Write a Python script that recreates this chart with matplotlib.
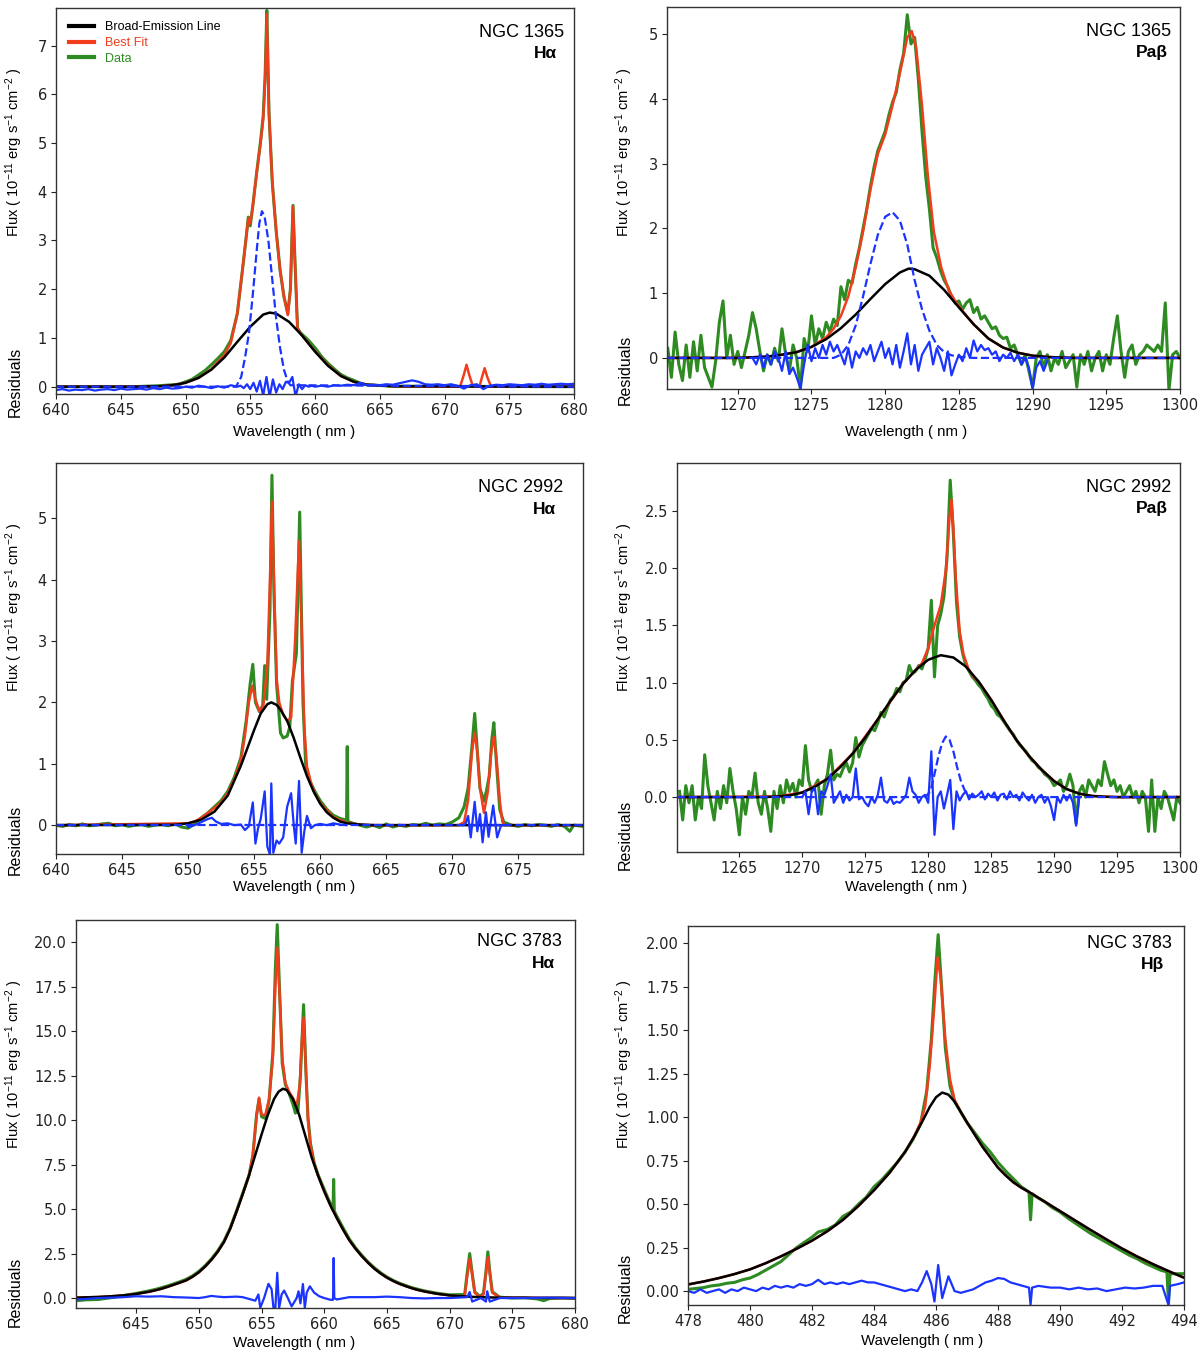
import numpy as np
import matplotlib
matplotlib.use('Agg')
import matplotlib.pyplot as plt
from matplotlib.lines import Line2D

# ---- NGC 1365 H-alpha ----
a_data_x = [640, 646, 648, 649.5, 650, 650.5, 651, 651.5, 652, 652.5,
            653, 653.5, 654, 654.4, 654.7, 654.85, 655.0, 655.2, 655.5, 655.8,
            656.0, 656.15, 656.28, 656.45, 656.7, 657.0, 657.3, 657.6, 657.9, 658.1,
            658.3, 658.45, 658.65, 658.9, 659.5, 660, 660.5, 661, 661.5, 662,
            662.5, 663, 663.5, 664, 666, 680]
a_data_y = [0.0, 0.0, 0.02, 0.05, 0.1, 0.15, 0.24, 0.33, 0.45, 0.58,
            0.72, 0.95, 1.5, 2.4, 3.1, 3.48, 3.3, 3.72, 4.4, 5.05,
            5.55, 6.4, 7.72, 5.6, 4.2, 3.2, 2.4, 1.85, 1.5, 2.0,
            3.72, 2.6, 1.2, 1.1, 0.95, 0.8, 0.62, 0.48, 0.36, 0.25,
            0.18, 0.13, 0.07, 0.04, 0.01, 0.0]
a_fit_x = [640, 646, 648, 649, 650, 651, 652, 653, 653.5, 654,
           654.4, 654.7, 654.85, 655.0, 655.2, 655.5, 655.8, 656.0, 656.15, 656.28,
           656.45, 656.7, 657.0, 657.3, 657.6, 657.9, 658.1, 658.3, 658.45, 658.65,
           658.9, 660, 661, 662, 663, 664, 666, 671.2, 671.5, 671.7,
           671.9, 672.2, 672.7, 672.9, 673.1, 673.3, 673.6, 680]
a_fit_y = [0, 0, 0.01, 0.03, 0.08, 0.18, 0.36, 0.65, 0.9, 1.5,
           2.4, 3.1, 3.45, 3.35, 3.7, 4.4, 5.0, 5.5, 6.3, 7.65,
           5.6, 4.2, 3.2, 2.4, 1.85, 1.47, 2.0, 3.7, 2.6, 1.2,
           1.08, 0.73, 0.44, 0.22, 0.1, 0.04, 0.01, 0.0, 0.25, 0.45,
           0.25, 0.0, 0.0, 0.2, 0.38, 0.2, 0.0, 0.0]
a_broad_x = [640, 646, 648, 649, 650, 651, 652, 653, 654, 655,
             656, 656.5, 657, 658, 659, 660, 661, 662, 663, 664, 666, 680]
a_broad_y = [0, 0, 0.01, 0.03, 0.08, 0.18, 0.35, 0.6, 0.92, 1.23,
             1.48, 1.52, 1.50, 1.33, 1.05, 0.72, 0.43, 0.22, 0.1, 0.04, 0.01, 0]
a_narrow_x = [640, 653.9, 654.0, 654.3, 654.6, 654.9, 655.2, 655.5, 655.7, 655.9,
              656.1, 656.4, 656.7, 657.0, 657.3, 657.6, 657.9, 658.1, 680]
a_narrow_y = [0, 0, 0.05, 0.2, 0.6, 1.1, 1.9, 2.8, 3.35, 3.6,
              3.5, 3.0, 2.2, 1.4, 0.8, 0.35, 0.1, 0.03, 0]
a_res_x = np.concatenate([np.arange(640, 654.01, 0.5),
                          np.arange(654.25, 659.76, 0.25),
                          np.arange(660, 680.01, 0.5)])
a_res_y = [-0.07, -0.05, -0.08, -0.06, -0.07, -0.05, -0.08, -0.06, -0.05, -0.07,
           -0.04, -0.06, -0.05, -0.04, -0.06, -0.03, -0.05, -0.02, -0.04, -0.03,
           0.0, -0.02, 0.02, 0.0, -0.03, 0.01, -0.02, 0.03, 0.0,
           0.02, -0.03, 0.05, -0.05, 0.08, -0.1, 0.12, -0.18, 0.2, -0.2,
           0.15, -0.12, 0.05, -0.05, 0.1, 0.08, 0.2, -0.2, 0.05, -0.05,
           0.03, 0.0, 0.02,
           0.0, 0.02, 0.0, 0.03, 0.02, 0.04, 0.03, 0.08, 0.03, 0.04,
           0.03, 0.05, 0.04, 0.07, 0.1, 0.13, 0.1, 0.05, 0.04, 0.05,
           0.03, 0.05, 0.02, -0.04, 0.03, 0.05, -0.05, 0.02, 0.04, 0.03,
           0.05, 0.04, 0.03, 0.05, 0.04, 0.06, 0.04, 0.05, 0.06, 0.05,
           0.06]

# ---- NGC 1365 Pa-beta ----
b_data_x = np.arange(1265.25, 1300.01, 0.25)
b_data_y = [0.15, -0.3, 0.4, -0.1, -0.35, 0.2, -0.3, 0.25,
            -0.2, 0.35, -0.15, -0.3, -0.45, -0.05, 0.55, 0.88,
            0.0, 0.35, -0.1, 0.1, -0.15, 0.1, 0.35, 0.7,
            0.45, 0.1, -0.2, 0.05, -0.1, 0.15, -0.05, 0.45,
            0.05, -0.2, 0.2, 0.0, -0.48, 0.3, 0.1, 0.65,
            0.2, 0.45, 0.3, 0.55, 0.4, 0.6, 0.5, 1.1,
            0.9, 1.2, 1.15, 1.45, 1.7, 2.0, 2.3, 2.65,
            2.95, 3.2, 3.35, 3.5, 3.75, 3.95, 4.1, 4.45,
            4.7, 5.3, 4.85, 4.95, 4.3, 3.5, 2.8, 2.3,
            1.7, 1.55, 1.35, 1.2, 1.1, 0.95, 0.85, 0.88,
            0.75, 0.85, 0.9, 0.7, 0.78, 0.6, 0.65, 0.55,
            0.45, 0.48, 0.35, 0.3, 0.32, 0.15, 0.2, 0.05,
            -0.1, 0.05, -0.2, -0.45, 0.0, 0.1, -0.15, 0.05,
            -0.2, 0.0, -0.1, 0.1, -0.15, -0.05, 0.05, -0.45,
            0.05, -0.1, 0.1, -0.2, 0.0, 0.1, -0.2, 0.05,
            -0.1, 0.3, 0.65, 0.1, -0.3, 0.1, 0.2, -0.1,
            0.05, 0.1, 0.2, 0.15, 0.1, 0.2, 0.1, 0.85,
            -0.5, 0.05, 0.1, 0.0]
b_fit_x = [1265.2, 1270, 1271, 1272, 1273, 1274, 1275, 1276, 1276.5, 1277,
           1277.5, 1278, 1278.5, 1279, 1279.5, 1280, 1280.5, 1281, 1281.5, 1281.8,
           1282.1, 1282.5, 1282.9, 1283.3, 1283.8, 1284.3, 1284.8, 1285.3, 1286, 1287,
           1288, 1289, 1290, 1291, 1292, 1293, 1300]
b_fit_y = [0, 0, 0.01, 0.02, 0.05, 0.09, 0.17, 0.32, 0.45, 0.65,
           0.95, 1.4, 1.95, 2.6, 3.15, 3.45, 3.9, 4.4, 4.95, 5.05,
           4.8, 3.9, 2.8, 1.95, 1.4, 1.05, 0.86, 0.71, 0.52, 0.3,
           0.16, 0.08, 0.035, 0.015, 0.005, 0, 0]
b_broad_x = [1265.2, 1270, 1271, 1272, 1273, 1274, 1275, 1276, 1277, 1278,
             1279, 1280, 1281, 1281.6, 1282, 1283, 1284, 1285, 1286, 1287,
             1288, 1289, 1290, 1291, 1292, 1293, 1300]
b_broad_y = [0, 0, 0.01, 0.02, 0.05, 0.09, 0.17, 0.29, 0.46, 0.67,
             0.91, 1.14, 1.32, 1.38, 1.37, 1.27, 1.05, 0.78, 0.52, 0.3,
             0.16, 0.08, 0.035, 0.015, 0.005, 0, 0]
b_narrow_x = [1265.2, 1276.5, 1277, 1277.5, 1278, 1278.5, 1279, 1279.5, 1280, 1280.5,
              1281, 1281.5, 1282, 1282.5, 1283, 1283.5, 1284, 1284.5, 1285, 1286, 1300]
b_narrow_y = [0, 0, 0.05, 0.2, 0.5, 0.95, 1.45, 1.9, 2.18, 2.25,
              2.12, 1.75, 1.2, 0.75, 0.42, 0.2, 0.09, 0.04, 0.02, 0, 0]
b_res_x = np.arange(1271, 1291.01, 0.25)
b_res_y = [0.0, -0.1, 0.05, -0.15, 0.05, -0.1, 0.1, 0.0,
           -0.2, 0.1, -0.25, -0.15, -0.3, -0.47, -0.1, 0.2,
           -0.05, 0.15, 0.0, 0.2, 0.05, 0.25, 0.1, 0.2,
           0.05, -0.1, 0.15, -0.15, 0.1, 0.0, 0.15, 0.05,
           0.2, -0.05, 0.1, 0.25, 0.0, 0.15, -0.1, 0.2,
           -0.15, 0.1, 0.38, -0.1, 0.2, -0.2, 0.05, 0.15,
           0.25, -0.1, 0.15, 0.0, -0.2, 0.1, -0.27, -0.1,
           0.05, -0.05, 0.15, 0.0, 0.27, 0.1, 0.2, 0.12,
           0.15, 0.05, 0.1, -0.05, 0.05, 0.0, 0.08, -0.05,
           0.05, -0.1, 0.0, -0.15, -0.48, -0.15, -0.05, -0.2,
           -0.05]

# ---- NGC 2992 H-alpha ----
c_data_x = [640, 640.5, 641, 641.5, 642, 642.5, 643, 643.5, 644, 644.5,
            645, 645.5, 646, 646.5, 647, 647.5, 648, 648.5, 649, 649.5,
            650, 650.5, 651, 651.5, 652, 652.5, 653, 653.5, 654, 654.4,
            654.7, 654.9, 655.1, 655.4, 655.65, 655.8, 655.95, 656.2, 656.35, 656.5,
            656.7, 657.0, 657.2, 657.5, 657.7, 657.9, 658.2, 658.45, 658.7, 658.9,
            659.2, 659.6, 660, 660.5, 661, 661.5, 662, 662.05, 662.1, 662.5,
            663, 663.5, 664, 664.5, 665, 665.5, 666, 666.5, 667, 667.5,
            668, 668.5, 669, 669.5, 670, 670.5, 670.9, 671.2, 671.5, 671.7,
            671.9, 672.1, 672.4, 672.6, 672.8, 673.0, 673.15, 673.35, 673.6, 673.9,
            674.5, 675, 675.5, 676, 676.5, 677, 677.5, 678, 678.5, 678.9,
            679.2, 679.9]
c_data_y = [0.0, -0.02, 0.01, -0.01, 0.02, -0.01, 0.0, 0.02, 0.03, -0.01,
            0.01, -0.02, 0.0, 0.01, -0.02, 0.0, 0.01, -0.01, 0.02, -0.03,
            -0.05, 0.02, 0.12, 0.2, 0.3, 0.4, 0.55, 0.78, 1.1, 1.7,
            2.3, 2.62, 2.0, 1.85, 1.95, 2.6, 2.05, 3.5, 5.7, 3.8,
            2.3, 1.5, 1.42, 1.45, 1.6, 2.35, 2.8, 5.1, 2.0, 1.0,
            0.72, 0.55, 0.4, 0.26, 0.16, 0.11, 0.08, 1.28, 0.06, 0.03,
            0.0, -0.03, 0.0, -0.04, 0.02, -0.03, 0.0, -0.02, 0.01, 0.0,
            0.03, 0.0, 0.02, 0.01, 0.05, 0.12, 0.3, 0.6, 1.3, 1.82,
            1.2, 0.6, 0.39, 0.57, 0.8, 1.4, 1.67, 1.0, 0.25, 0.05,
            0.0, -0.02, 0.01, -0.01, 0.01, 0.0, -0.02, 0.01, -0.02, -0.1,
            0.0, -0.02]
c_fit_x = [640, 650, 650.5, 651, 651.5, 652, 652.5, 653, 653.5, 654,
           654.3, 654.6, 654.85, 655.1, 655.4, 655.7, 656.0, 656.2, 656.35, 656.5,
           656.7, 656.9, 657.2, 657.5, 657.8, 658.1, 658.4, 658.6, 658.8, 659.0,
           659.3, 659.6, 660, 661, 662, 663, 664, 670.5, 670.9, 671.2,
           671.5, 671.7, 671.9, 672.1, 672.4, 672.7, 672.95, 673.15, 673.35, 673.6,
           673.8, 674, 679.9]
c_fit_y = [0, 0.03, 0.06, 0.12, 0.2, 0.28, 0.37, 0.52, 0.75, 1.05,
           1.45, 2.0, 2.27, 2.05, 1.86, 1.95, 2.6, 4.0, 5.27, 4.0,
           2.4, 2.0, 1.8, 1.7, 1.75, 3.0, 4.63, 3.2, 1.6, 0.95,
           0.7, 0.52, 0.36, 0.13, 0.04, 0.01, 0, 0, 0.05, 0.4,
           1.2, 1.51, 1.2, 0.6, 0.2, 0.55, 1.2, 1.44, 1.1, 0.4,
           0.05, 0, 0]
c_broad_x = [640, 649, 650, 651, 652, 653, 654, 655, 655.5, 656,
             656.3, 656.7, 657, 657.5, 658, 658.5, 659, 659.5, 660, 660.5,
             661, 661.5, 662, 663, 664, 679.9]
c_broad_y = [0, 0.005, 0.03, 0.09, 0.22, 0.48, 0.97, 1.55, 1.82, 1.97,
             2.0, 1.96, 1.88, 1.7, 1.42, 1.1, 0.8, 0.55, 0.35, 0.21,
             0.12, 0.06, 0.03, 0.01, 0, 0]
c_narrow_x = [640, 679.9]
c_narrow_y = [0, 0]
c_res_x = [650, 650.5, 651, 651.5, 651.8, 652.1, 652.5, 653, 653.5, 654,
           654.3, 654.6, 654.9, 655.1, 655.3, 655.5, 655.8, 656.0, 656.2, 656.3,
           656.45, 656.7, 656.9, 657.2, 657.5, 657.8, 658.0, 658.15, 658.4, 658.6,
           658.8, 659.0, 659.3, 659.6, 660, 660.5, 661, 661.5, 662]
c_res_y = [-0.03, 0.0, 0.05, 0.1, 0.12, 0.06, 0.02, 0.03, 0.0, 0.01,
           -0.08, -0.02, 0.37, -0.3, -0.05, 0.1, 0.55, -0.35, -0.48, 0.68,
           -0.45, -0.25, -0.3, -0.2, 0.3, 0.52, 0.0, -0.3, 0.72, -0.45,
           -0.1, 0.15, -0.05, 0.0, 0.02, 0.0, 0.03, 0.01, 0.0]
c_res2_x = [670.8, 671.0, 671.2, 671.4, 671.7, 671.9, 672.1, 672.3, 672.55, 672.75,
            673.1, 673.4, 673.7, 674.0]
c_res2_y = [0.0, 0.02, 0.15, -0.2, 0.38, -0.1, 0.18, -0.28, 0.21, -0.19,
            0.32, -0.2, 0.0, 0.0]

# ---- NGC 2992 Pa-beta ----
d_data_x = np.arange(1260.25, 1300.01, 0.25)
d_data_y = [0.05, -0.2, 0.1, -0.05, 0.1, -0.2, 0.0, -0.1,
            0.37, 0.1, -0.05, -0.2, 0.05, -0.1, 0.1, -0.05,
            0.25, 0.05, -0.1, -0.33, 0.0, -0.15, 0.05, 0.0,
            0.21, -0.05, -0.15, 0.05, -0.1, -0.3, 0.05, -0.1,
            0.1, -0.05, 0.15, 0.05, 0.12, 0.0, 0.15, 0.1,
            0.45, 0.15, 0.05, 0.1, 0.15, -0.15, 0.1, 0.2,
            0.41, 0.15, 0.2, 0.18, 0.25, 0.3, 0.22, 0.3,
            0.52, 0.35, 0.45, 0.5, 0.55, 0.6, 0.58, 0.65,
            0.74, 0.7, 0.78, 0.85, 0.88, 0.95, 0.92, 1.0,
            1.02, 1.15, 1.08, 1.1, 1.15, 1.12, 1.2, 1.3,
            1.72, 1.05, 1.5, 1.6, 1.75, 2.1, 2.77, 2.3,
            1.7, 1.4, 1.25, 1.15, 1.1, 1.05, 1.02, 0.98,
            0.95, 0.9, 0.86, 0.8, 0.77, 0.72, 0.7, 0.66,
            0.62, 0.58, 0.55, 0.5, 0.46, 0.43, 0.4, 0.36,
            0.32, 0.3, 0.26, 0.24, 0.2, 0.18, 0.15, 0.1,
            0.12, 0.15, 0.05, 0.1, 0.2, 0.1, -0.23, 0.05,
            0.1, 0.0, 0.15, 0.1, 0.05, 0.15, 0.1, 0.31,
            0.2, 0.1, 0.15, 0.05, 0.1, 0.0, 0.05, 0.1,
            0.0, 0.05, -0.05, 0.05, 0.0, -0.3, 0.15, -0.3,
            0.0, -0.1, 0.05, 0.0, -0.1, -0.2, 0.0, -0.05]
d_fit_x = [1260.05, 1268, 1270, 1272, 1274, 1276, 1278, 1279, 1279.5, 1280,
           1280.5, 1281, 1281.4, 1281.7, 1281.85, 1282.0, 1282.2, 1282.5, 1282.8, 1283.2,
           1283.6, 1284, 1285, 1286, 1287, 1288, 1289, 1290, 1291, 1292,
           1293, 1295, 1300]
d_fit_y = [0, 0.005, 0.04, 0.16, 0.38, 0.68, 0.99, 1.11, 1.17, 1.3,
           1.5, 1.68, 1.98, 2.45, 2.6, 2.35, 1.9, 1.45, 1.25, 1.12,
           1.05, 1.01, 0.85, 0.67, 0.5, 0.36, 0.24, 0.14, 0.07, 0.03,
           0.01, 0, 0]
d_broad_x = [1260.05, 1267, 1268, 1269, 1270, 1271, 1272, 1273, 1274, 1275,
             1276, 1277, 1278, 1279, 1280, 1281, 1282, 1283, 1284, 1285,
             1286, 1287, 1288, 1289, 1290, 1291, 1292, 1293, 1294, 1295, 1300]
d_broad_y = [0, 0, 0.005, 0.015, 0.04, 0.09, 0.16, 0.26, 0.38, 0.52,
             0.68, 0.84, 0.99, 1.11, 1.2, 1.24, 1.22, 1.14, 1.01, 0.85,
             0.67, 0.5, 0.36, 0.24, 0.14, 0.07, 0.03, 0.01, 0.003, 0, 0]
d_narrow_x = [1260.05, 1279.8, 1280.2, 1280.5, 1280.8, 1281.1, 1281.4, 1281.7, 1282.0, 1282.3,
              1282.6, 1282.9, 1283.2, 1283.5, 1300]
d_narrow_y = [0, 0, 0.06, 0.2, 0.35, 0.47, 0.53, 0.5, 0.4, 0.26,
              0.14, 0.06, 0.02, 0, 0]
d_res_x = np.arange(1270, 1292.01, 0.25)
d_res_y = [0.0, 0.05, -0.15, 0.05, 0.08, -0.15, 0.05, 0.02,
           0.1, 0.2, -0.05, 0.0, 0.05, -0.05, 0.02, -0.03,
           0.0, 0.25, -0.02, 0.0, -0.05, -0.08, 0.0, -0.05,
           0.02, 0.17, -0.03, -0.05, 0.0, -0.06, -0.04, -0.05,
           -0.02, 0.02, 0.17, 0.05, 0.02, -0.05, 0.0, 0.02,
           -0.05, 0.4, -0.33, 0.0, 0.05, -0.1, 0.02, 0.15,
           -0.28, 0.05, -0.03, 0.02, 0.05, -0.02, 0.03, 0.0,
           0.02, 0.05, -0.02, 0.03, 0.0, 0.04, -0.03, 0.02,
           0.03, -0.02, 0.05, 0.0, 0.02, -0.03, 0.04, 0.0,
           -0.03, 0.02, -0.05, 0.0, 0.02, -0.05, 0.0, -0.08,
           -0.2, 0.0, -0.05, 0.02, -0.03, 0.02, -0.05, -0.25,
           0.0]

# ---- NGC 3783 H-alpha ----
e_data_x = [640.2, 641, 642, 643, 644, 645, 646, 646.5, 647, 647.5,
            648, 648.5, 649, 649.5, 650, 650.5, 651, 651.5, 652, 652.5,
            653, 653.5, 654, 654.3, 654.6, 654.8, 655.0, 655.3, 655.6, 655.9,
            656.1, 656.25, 656.45, 656.65, 656.9, 657.2, 657.5, 657.7, 657.9, 658.1,
            658.35, 658.55, 658.7, 658.9, 659.2, 659.5, 660, 660.4, 660.7, 660.75,
            660.8, 661, 661.5, 662, 662.5, 663, 663.5, 664, 664.5, 665,
            665.5, 666, 667, 668, 669, 670, 671.2, 671.4, 671.6, 671.8,
            672.0, 672.4, 672.7, 672.9, 673.05, 673.2, 673.4, 674, 675, 676,
            677, 677.5, 678, 679, 680]
e_data_y = [-0.15, -0.1, -0.08, 0.02, 0.14, 0.26, 0.4, 0.48, 0.58, 0.68,
            0.8, 0.92, 1.06, 1.25, 1.5, 1.82, 2.2, 2.65, 3.2, 3.95,
            4.9, 5.9, 6.9, 8.0, 10.3, 11.2, 10.2, 10.1, 11.1, 13.8,
            18.5, 21.0, 17.0, 13.2, 12.0, 11.5, 10.9, 10.4, 10.5, 12.5,
            16.5, 12.5, 10.2, 8.7, 7.6, 6.95, 6.1, 5.45, 4.95, 6.67,
            4.9, 4.6, 3.95, 3.32, 2.82, 2.4, 2.02, 1.7, 1.42, 1.18,
            0.99, 0.83, 0.58, 0.4, 0.27, 0.18, 0.2, 1.4, 2.5, 1.4,
            0.35, 0.1, 0.25, 1.5, 2.6, 1.5, 0.35, 0.05, 0.0, 0.02,
            -0.05, -0.15, -0.02, 0.0, -0.02]
e_fit_x = [640.2, 641, 642, 643, 644, 645, 646, 646.5, 647, 647.5,
           648, 648.5, 649, 649.5, 650, 650.5, 651, 651.5, 652, 652.5,
           653, 653.5, 654, 654.3, 654.6, 654.8, 655.0, 655.3, 655.6, 655.9,
           656.1, 656.25, 656.45, 656.65, 656.9, 657.2, 657.5, 657.8, 658.05, 658.2,
           658.35, 658.5, 658.7, 658.9, 659.2, 659.5, 660, 660.5, 661, 661.5,
           662, 662.5, 663, 663.5, 664, 664.5, 665, 665.5, 666, 666.5,
           667, 667.5, 668, 669, 670, 671, 671.2, 671.4, 671.6, 671.8,
           672.0, 672.4, 672.7, 672.9, 673.05, 673.2, 673.4, 674, 677, 680]
e_fit_y = [0.02, 0.04, 0.06, 0.1, 0.15, 0.23, 0.35, 0.43, 0.52, 0.63,
           0.75, 0.87, 1.0, 1.2, 1.45, 1.77, 2.15, 2.6, 3.15, 3.9,
           4.85, 5.85, 6.9, 8.0, 10.2, 11.27, 10.3, 10.3, 11.2, 13.5,
           17.5, 19.7, 17.0, 13.5, 12.1, 11.6, 11.25, 10.8, 12.0, 14.3,
           15.77, 13.5, 10.0, 8.6, 7.55, 6.9, 6.0, 5.2, 4.5, 3.85,
           3.25, 2.77, 2.35, 1.98, 1.65, 1.38, 1.15, 0.96, 0.8, 0.67,
           0.55, 0.45, 0.37, 0.24, 0.15, 0.1, 0.1, 1.2, 2.2, 1.3,
           0.3, 0.06, 0.2, 1.4, 2.3, 1.4, 0.3, 0.02, 0.01, 0.0]
e_broad_x = [640.2, 641, 642, 643, 644, 645, 646, 646.5, 647, 647.5,
             648, 648.5, 649, 649.5, 650, 650.5, 651, 651.5, 652, 652.5,
             653, 653.5, 654, 654.5, 655, 655.5, 656, 656.35, 656.7, 657,
             657.5, 658, 658.5, 659, 659.5, 660, 660.5, 661, 661.5, 662,
             662.5, 663, 663.5, 664, 664.5, 665, 665.5, 666, 666.5, 667,
             667.5, 668, 669, 670, 671, 672, 674, 677, 680]
e_broad_y = [0.02, 0.04, 0.06, 0.1, 0.15, 0.23, 0.35, 0.43, 0.52, 0.63,
             0.75, 0.87, 1.0, 1.2, 1.45, 1.77, 2.15, 2.6, 3.15, 3.9,
             4.85, 5.85, 6.9, 8.05, 9.2, 10.3, 11.2, 11.6, 11.77, 11.7,
             11.2, 10.3, 9.1, 7.9, 6.9, 6.0, 5.2, 4.5, 3.85, 3.25,
             2.77, 2.35, 1.98, 1.65, 1.38, 1.15, 0.96, 0.8, 0.67, 0.55,
             0.45, 0.37, 0.24, 0.15, 0.1, 0.06, 0.02, 0.01, 0.0]
e_res_x = [640.2, 641, 642, 643, 644, 645, 646, 647, 648, 649,
           650, 650.5, 651, 651.5, 652, 653, 653.5, 654, 654.5, 654.75,
           654.9, 655.2, 655.55, 655.8, 655.95, 656.1, 656.25, 656.4, 656.6, 656.8,
           657.1, 657.4, 657.8, 657.95, 658.1, 658.3, 658.45, 658.6, 658.85, 659.2,
           659.6, 660, 660.5, 660.7, 660.75, 660.8, 661, 662, 663, 664,
           665, 666, 667, 668, 669, 670, 671.4, 671.6, 671.8, 672.5,
           672.9, 673.0, 673.2, 674, 676, 678, 680]
e_res_y = [-0.08, -0.05, 0.0, 0.02, 0.05, 0.1, 0.08, 0.1, 0.05, 0.03,
           0.0, 0.05, 0.12, 0.08, 0.05, 0.08, 0.05, -0.05, -0.15, 0.2,
           -0.55, 0.0, 0.8, 0.5, -0.56, -0.56, 1.42, -0.56, 0.2, 0.42,
           0.0, -0.47, 0.0, 0.38, -0.3, 0.79, -0.55, 0.3, 0.66, 0.3,
           0.1, 0.0, -0.1, -0.1, 2.25, 0.0, -0.08, 0.05, 0.05, 0.05,
           0.08, 0.05, 0.0, -0.02, 0.0, 0.0, 0.05, 0.34, -0.2, 0.0,
           -0.2, 0.38, -0.2, 0.0, 0.0, 0.02, 0.0]

# ---- NGC 3783 H-beta ----
f_data_x = [478, 478.25, 478.5, 478.75, 479, 479.25, 479.5, 479.75, 480, 480.25,
            480.5, 480.75, 481, 481.25, 481.5, 481.75, 482, 482.2, 482.5, 482.75,
            483, 483.25, 483.5, 483.75, 484, 484.25, 484.5, 484.75, 485, 485.25,
            485.5, 485.7, 485.85, 485.97, 486.07, 486.18, 486.3, 486.45, 486.6, 486.8,
            487, 487.25, 487.5, 487.75, 488, 488.25, 488.5, 488.75, 489, 489.05,
            489.1, 489.3, 489.5, 489.75, 490, 490.25, 490.5, 490.75, 491, 491.25,
            491.5, 491.75, 492, 492.25, 492.5, 492.75, 493, 493.25, 493.45, 493.5,
            493.55, 493.75, 494]
f_data_y = [0.01, 0.015, 0.02, 0.03, 0.035, 0.045, 0.05, 0.065, 0.075, 0.095,
            0.12, 0.145, 0.17, 0.21, 0.25, 0.28, 0.31, 0.34, 0.355, 0.38,
            0.43, 0.455, 0.5, 0.54, 0.6, 0.64, 0.69, 0.74, 0.8, 0.87,
            0.96, 1.15, 1.45, 1.8, 2.05, 1.75, 1.4, 1.18, 1.09, 1.03,
            0.97, 0.91, 0.85, 0.8, 0.74, 0.69, 0.645, 0.6, 0.57, 0.41,
            0.56, 0.535, 0.515, 0.48, 0.455, 0.42, 0.39, 0.36, 0.33, 0.305,
            0.28, 0.255, 0.23, 0.205, 0.185, 0.16, 0.14, 0.12, 0.11, -0.07,
            0.1, 0.1, 0.1]
f_fit_x = [478, 478.5, 479, 479.5, 480, 480.5, 481, 481.5, 482, 482.5,
           483, 483.5, 484, 484.5, 485, 485.3, 485.5, 485.65, 485.8, 485.95,
           486.05, 486.15, 486.3, 486.45, 486.6, 486.8, 487, 487.25, 487.5, 487.75,
           488, 488.25, 488.5, 488.75, 489, 489.5, 490, 490.5, 491, 491.5,
           492, 492.5, 493, 493.5, 494]
f_fit_y = [0.038, 0.055, 0.075, 0.098, 0.125, 0.16, 0.2, 0.243, 0.29, 0.345,
           0.41, 0.49, 0.58, 0.68, 0.8, 0.89, 0.97, 1.06, 1.3, 1.65,
           1.92, 1.8, 1.45, 1.22, 1.1, 1.03, 0.97, 0.9, 0.83, 0.77,
           0.71, 0.665, 0.625, 0.595, 0.57, 0.515, 0.46, 0.405, 0.35, 0.297,
           0.245, 0.198, 0.155, 0.115, 0.077]
f_broad_x = [478, 478.5, 479, 479.5, 480, 480.5, 481, 481.5, 482, 482.5,
             483, 483.5, 484, 484.5, 485, 485.3, 485.6, 485.8, 486, 486.2,
             486.4, 486.6, 486.8, 487, 487.25, 487.5, 487.75, 488, 488.25, 488.5,
             488.75, 489, 489.5, 490, 490.5, 491, 491.5, 492, 492.5, 493,
             493.5, 494]
f_broad_y = [0.038, 0.055, 0.075, 0.098, 0.125, 0.16, 0.2, 0.243, 0.29, 0.345,
             0.41, 0.49, 0.58, 0.68, 0.8, 0.89, 0.99, 1.06, 1.115, 1.142,
             1.13, 1.09, 1.03, 0.97, 0.9, 0.83, 0.77, 0.71, 0.665, 0.625,
             0.595, 0.57, 0.515, 0.46, 0.405, 0.35, 0.297, 0.245, 0.198, 0.155,
             0.115, 0.077]
f_res_x = np.concatenate([np.arange(478, 485.41, 0.2),
                          [485.55, 485.7, 485.85, 485.95, 486.07, 486.2, 486.4, 486.6, 486.8, 487,
                           487.2, 487.4, 487.6, 487.8, 488, 488.2, 488.4, 488.6, 488.8, 489,
                           489.05, 489.1, 489.3, 489.5, 489.7, 490, 490.3, 490.6, 490.9, 491.2,
                           491.5, 491.8, 492.1, 492.4, 492.7, 493, 493.3, 493.5, 493.55, 493.8,
                           494]])
f_res_y = [0.0, -0.01, 0.01, -0.01, 0.0, 0.01, -0.01, 0.01, 0.0, 0.02,
           0.01, 0.0, 0.02, 0.01, 0.03, 0.02, 0.03, 0.02, 0.04, 0.03,
           0.04, 0.065, 0.04, 0.05, 0.04, 0.05, 0.04, 0.05, 0.06, 0.05,
           0.05, 0.04, 0.03, 0.02, 0.01, 0.0, 0.01, 0.0,
           0.05, 0.115, 0.04, -0.06, 0.15, -0.04, 0.085, 0.0, -0.01, 0.0,
           0.01, 0.03, 0.05, 0.06, 0.075, 0.07, 0.05, 0.04, 0.03, 0.02,
           -0.08, 0.02, 0.03, 0.025, 0.02, 0.02, 0.01, 0.02, 0.01, 0.015,
           0.0, 0.01, 0.02, 0.015, 0.02, 0.03, 0.03, -0.08, 0.03, 0.04,
           0.05]

galaxies = ['NGC 1365', 'NGC 1365', 'NGC 2992', 'NGC 2992', 'NGC 3783', 'NGC 3783']
lines = ['H\u03b1', 'Pa\u03b2', 'H\u03b1', 'Pa\u03b2', 'H\u03b1', 'H\u03b2']
xlims = [(640, 680), (1265.2, 1300), (640, 679.9), (1260.05, 1300), (640.2, 680), (478, 494)]
ylims = [(-0.15, 7.77), (-0.48, 5.42), (-0.47, 5.9), (-0.48, 2.92), (-0.56, 21.26), (-0.08, 2.10)]
xticks = [range(640, 681, 5), range(1270, 1301, 5), range(640, 676, 5),
          range(1265, 1301, 5), range(645, 681, 5), range(478, 495, 2)]
yticks = [range(0, 8), range(0, 6), range(0, 6),
          np.arange(0, 2.51, 0.5), np.arange(0, 20.1, 2.5), np.arange(0, 2.01, 0.25)]
yfmt = ['%d', '%d', '%d', '%.1f', '%.1f', '%.2f']

C_DATA = '#2e8b22'
C_FIT = '#f23d1d'
C_BLUE = '#1a33ff'
LAB = ['Liberation Sans', 'DejaVu Sans']

plt.rcParams['font.family'] = 'DejaVu Sans'
plt.rcParams['mathtext.fontset'] = 'custom'
plt.rcParams['mathtext.rm'] = 'Liberation Sans'
plt.rcParams['mathtext.default'] = 'regular'

W, H = 1200, 1358
fig = plt.figure(figsize=(W / 100, H / 100), dpi=100)

# axes boxes in pixels: left, top, right, bottom
boxes = [(56, 8, 574, 394), (667, 7, 1180, 389),
         (56, 463, 583, 854), (677, 463, 1180, 852),
         (76, 920, 575, 1308), (688, 926, 1184, 1305)]
xlab_pos = [(294, 432), (906, 432), (294, 887), (906, 887), (294, 1343), (922, 1341)]
flux_pos = [(14, 152), (624, 152), (14, 607), (624, 607), (14, 1064), (624, 1064)]
resid_pos = [(15, 382), (625, 370), (15, 840), (625, 835), (15, 1292), (625, 1288)]
name_off = [(10, 24, 17, 45), (9, 25, 12, 46), (20, 24, 27, 46),
            (9, 24, 12, 45), (13, 22, 20, 44), (12, 17, 20, 39)]

panels = [
    (a_data_x, a_data_y, a_fit_x, a_fit_y, a_broad_x, a_broad_y, a_narrow_x, a_narrow_y, [(a_res_x, a_res_y)]),
    (b_data_x, b_data_y, b_fit_x, b_fit_y, b_broad_x, b_broad_y, b_narrow_x, b_narrow_y, [(b_res_x, b_res_y)]),
    (c_data_x, c_data_y, c_fit_x, c_fit_y, c_broad_x, c_broad_y, c_narrow_x, c_narrow_y,
     [(c_res_x, c_res_y), (c_res2_x, c_res2_y)]),
    (d_data_x, d_data_y, d_fit_x, d_fit_y, d_broad_x, d_broad_y, d_narrow_x, d_narrow_y, [(d_res_x, d_res_y)]),
    (e_data_x, e_data_y, e_fit_x, e_fit_y, e_broad_x, e_broad_y, None, None, [(e_res_x, e_res_y)]),
    (f_data_x, f_data_y, f_fit_x, f_fit_y, f_broad_x, f_broad_y, None, None, [(f_res_x, f_res_y)]),
]

flux_label = r'Flux ( 10$^{-11}$ erg s$^{-1}$ cm$^{-2}$ )'

for i, (dx, dy, fx, fy, bx, by, nx, ny, res) in enumerate(panels):
    l, t, r, b = boxes[i]
    ax = fig.add_axes([l / W, 1 - b / H, (r - l) / W, (b - t) / H])
    ax.plot(dx, dy, color=C_DATA, lw=2.2, label='Data')
    ax.plot(fx, fy, color=C_FIT, lw=1.8, label='Best Fit')
    ax.plot(bx, by, color='black', lw=1.8, label='Broad-Emission Line')
    if nx is not None:
        ax.plot(nx, ny, color=C_BLUE, lw=1.6, ls='--')
    for rx, ry in res:
        ax.plot(rx, ry, color=C_BLUE, lw=1.6)
    ax.set_xlim(*xlims[i])
    ax.set_ylim(*ylims[i])
    ax.set_xticks(list(xticks[i]))
    ax.set_yticks(list(yticks[i]))
    ax.set_yticklabels([yfmt[i] % v for v in yticks[i]])
    ax.tick_params(direction='out', length=3.5, width=0.8, labelsize=10.5, pad=3,
                   colors='#222222')
    for s in ax.spines.values():
        s.set_color('#333333')
        s.set_linewidth(1.0)

    n_dx, n_dy, l_dx, l_dy = name_off[i]
    ax.annotate(galaxies[i], xy=(1, 1), xycoords='axes fraction', xytext=(-n_dx, -n_dy),
                textcoords='offset pixels', ha='right', va='center', fontsize=13, family=LAB)
    ax.annotate(lines[i], xy=(1, 1), xycoords='axes fraction', xytext=(-l_dx, -l_dy),
                textcoords='offset pixels', ha='right', va='center', fontsize=12.5,
                fontweight='bold', family=LAB)

    x0, y0 = xlab_pos[i]
    fig.text(x0 / W, 1 - y0 / H, 'Wavelength ( nm )', ha='center', va='center',
             fontsize=10.8, family=LAB)
    x0, y0 = flux_pos[i]
    fig.text(x0 / W, 1 - y0 / H, flux_label, ha='center', va='center', rotation=90,
             fontsize=10.5, family=LAB)
    x0, y0 = resid_pos[i]
    fig.text(x0 / W, 1 - y0 / H, 'Residuals', ha='center', va='center', rotation=90,
             fontsize=11.5, family=LAB)

    if i == 0:
        handles = [Line2D([], [], color='black', lw=3),
                   Line2D([], [], color=C_FIT, lw=3),
                   Line2D([], [], color=C_DATA, lw=3)]
        ax.legend(handles, ['Broad-Emission Line', 'Best Fit', 'Data'], loc='upper left',
                  bbox_to_anchor=(0, 1), frameon=False, borderaxespad=0.55, borderpad=0.5,
                  handlelength=2.0, handletextpad=0.9, labelspacing=0.3,
                  labelcolor='linecolor', prop={'family': LAB, 'size': 9})

fig.savefig('out.png', dpi=100)
